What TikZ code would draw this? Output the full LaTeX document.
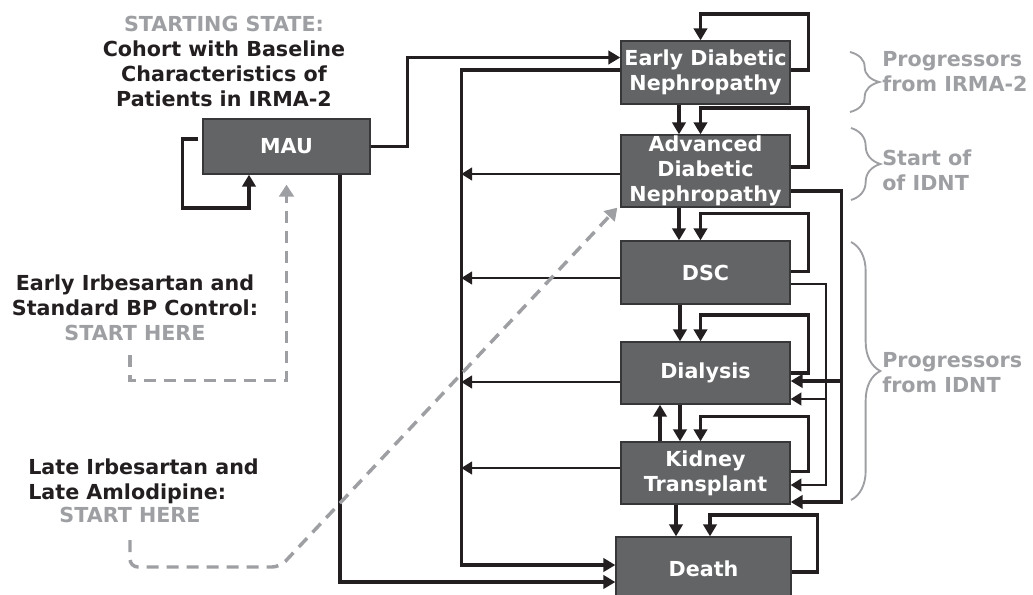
\documentclass[tikz,border=0pt]{standalone}
\usepackage{fontspec}
\setmainfont{DejaVu Sans}
\usepackage{tikz}
\usetikzlibrary{arrows.meta,calc,decorations.pathreplacing}

\definecolor{boxfill}{RGB}{99,100,102}
\definecolor{boxline}{RGB}{55,55,57}
\definecolor{ink}{RGB}{35,31,32}
\definecolor{lightgrey}{RGB}{157,159,162}

\begin{document}
\begin{tikzpicture}[x=0.75pt,y=0.75pt,yscale=-1,
  state/.style={draw=boxline, line width=1pt, fill=boxfill, text=white, font=\fontsize{15.5}{18.75}\selectfont\bfseries, align=center, inner sep=0pt},
  lbl/.style={font=\fontsize{15.5}{18.75}\selectfont\bfseries, inner sep=0pt},
  flow/.style={draw=ink, line width=2.3pt, -{Triangle[length=9pt,width=10pt]}},
  side/.style={draw=ink, line width=1.6pt, -{Triangle[length=8pt,width=9.5pt]}},
  startdash/.style={draw=lightgrey, line width=2.6pt, dash pattern=on 9pt off 6pt, -{Triangle[length=9pt,width=11pt]}},
  brace/.style={draw=lightgrey, line width=1.4pt, decorate, decoration={brace, amplitude=22pt}}
]
\clip (0,0) rectangle (1033,594);

% States
\node[state, minimum width=125.25pt, minimum height=41.25pt] (mau) at (286.5,146.5) {MAU};
\node[state, minimum width=126.75pt, minimum height=47.25pt] (edn) at (705.5,72.5) {Early Diabetic\\Nephropathy};
\node[state, minimum width=126.75pt, minimum height=54pt] (adn) at (705.5,171) {Advanced\\Diabetic\\Nephropathy};
\node[state, minimum width=126.75pt, minimum height=47.25pt] (dsc) at (705.5,272.5) {DSC};
\node[state, minimum width=126.75pt, minimum height=46.5pt] (dia) at (705.5,373) {Dialysis};
\node[state, minimum width=126.75pt, minimum height=46.5pt] (ktx) at (705.5,473) {Kidney\\Transplant};
\node[state, minimum width=131.25pt, minimum height=47.25pt] (dth) at (703.5,568.5) {Death};

% Text Node
\node[lbl, text=ink, align=center] (cohort) at (224,61) {\textcolor{lightgrey}{STARTING STATE:}\\Cohort with Baseline\\Characteristics of\\Patients in IRMA-2};
% Text Node
\node[lbl, text=ink, align=center] (early) at (135,308) {Early Irbesartan and\\Standard BP Control:\\\textcolor{lightgrey}{START HERE}};
% Text Node
\node[lbl, text=ink, align=left, anchor=west] (late) at (28,481) {Late Irbesartan and\\Late Amlodipine:};
% Text Node
\node[lbl, text=lightgrey] (lateStart) at (130,515) {START HERE};
% Text Node
\node[lbl, text=lightgrey, align=left, anchor=west] (irma) at (882,72) {Progressors\\from IRMA-2};
% Text Node
\node[lbl, text=lightgrey, align=left, anchor=west] (idntStart) at (882,170) {Start of\\of IDNT};
% Text Node
\node[lbl, text=lightgrey, align=left, anchor=west] (idntProg) at (882,372.5) {Progressors\\from IDNT};

% Braces
\draw[brace] (850,52) -- (850,112);
\draw[brace] (851,128) -- (851,200);
\draw[brace] (851,242) -- (851,500);

% MAU transitions
\draw[flow] ($(mau.west)+(-4,-7.5)$) -| ++(-16,69) -| ($(mau.south)+(-37.5,0)$);
\draw[flow] (mau.east) -- ++(37,0) |- ($(edn.west)+(0,-15)$);
\draw[flow] ($(mau.south)+(53.5,0)$) |- ($(dth.west)+(0,13.5)$);

% death from any state
\draw[flow] ($(edn.west)+(0,-2.5)$) -- ++(-159,0) |- ($(dth.west)+(0,-3.5)$);
\draw[side] ($(adn.west)+(0,3)$) -- ++(-159,0);
\draw[side] ($(dsc.west)+(0,5.5)$) -- ++(-159,0);
\draw[side] ($(dia.west)+(0,9)$) -- ++(-159,0);
\draw[side] ($(ktx.west)+(0,-5)$) -- ++(-159,0);

% stay in state
\draw[flow] ($(edn.east)+(0,-2.5)$) -| ++(18,-56) -| ($(edn.north)+(-5,0)$);
\draw[flow] ($(adn.east)+(0,-4)$) -| ++(18,-59) -| ($(adn.north)+(-5,0)$);
\draw[flow] ($(dsc.east)+(0,-1)$) -| ++(18,-58) -| ($(dsc.north)+(-5,0)$);
\draw[flow] (dia.east) -| ++(18,-58) -| ($(dia.north)+(-5,0)$);
\draw[flow] ($(ktx.east)+(0,-1.5)$) -| ++(18,-55) -| ($(ktx.north)+(-5,0)$);
\draw[flow] ($(dth.east)+(0,3.5)$) -| ++(26,-57) -| ($(dth.north)+(6.5,0)$);

% progression
\draw[flow] ($(edn.south)+(-26.5,0)$) -- ($(adn.north)+(-26.5,0)$);
\draw[flow] ($(adn.south)+(-26.5,0)$) -- ($(dsc.north)+(-26.5,0)$);
\draw[flow] ($(dsc.south)+(-25.5,0)$) -- ($(dia.north)+(-25.5,0)$);
\draw[flow] ($(dia.south)+(-25.5,0)$) -- ($(ktx.north)+(-25.5,0)$);
\draw[flow] ($(ktx.north)+(-45.5,0)$) -- ($(dia.south)+(-45.5,0)$);
\draw[flow] ($(ktx.south)+(-29.5,0)$) -- ($(dth.north)+(-27.5,0)$);

% skipping states
\draw[flow] ($(adn.east)+(0,20)$) -| ($(ktx.east)+(51,29)$) -- ($(ktx.east)+(0,29)$);
\draw[flow] ($(dia.east)+(51,8)$) -- ($(dia.east)+(0,8)$);
\draw[side] ($(dsc.east)+(0,11.5)$) -| ($(ktx.east)+(35,12)$) -- ($(ktx.east)+(0,12)$);
\draw[side] ($(dia.east)+(35,26)$) -- ($(dia.east)+(0,26)$);

% start here
\coordinate (es) at (130,355);
\draw[startdash] (es) |- ($(mau.south)+(0,206)$) -- ($(mau.south)+(0,10)$);
\coordinate (ls) at (130,540);
\coordinate (lbend) at (280,567);
\draw[startdash, rounded corners=6] (ls) |- (lbend) -- ($(adn.south west)+(-3,0)$);

\end{tikzpicture}
\end{document}
